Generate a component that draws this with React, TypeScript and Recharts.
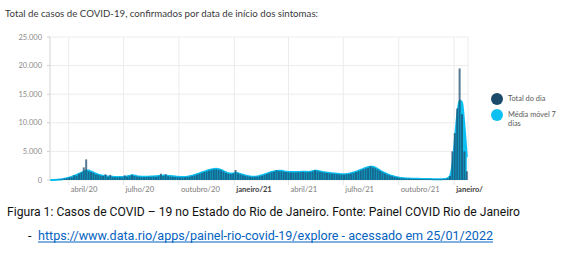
import React from 'react'
import { ComposedChart, Area, Bar, XAxis, YAxis, CartesianGrid } from 'recharts'

// one sample every 4 days, starting 01/03/2020
const stepDays = 4

const movingAvg = [
  0, 5, 15, 40, 80, 140, 210, 300, 420, 550, 720, 880, 1050, 1250, 1450, 1620, 1650, 1520, 1320, 1120,
  940, 820, 740, 680, 630, 590, 560, 540, 520, 520, 530, 560, 620, 720, 820, 790, 680, 610, 570, 550,
  560, 590, 610, 630, 650, 680, 740, 790, 760, 720, 680, 640, 600, 560, 530, 510, 530, 580, 650, 750,
  870, 1000, 1150, 1300, 1450, 1600, 1740, 1850, 1920, 1950, 1900, 1760, 1560, 1350, 1180, 1120, 1160, 1260, 1200, 1060,
  920, 800, 700, 630, 590, 590, 630, 710, 820, 960, 1110, 1260, 1400, 1510, 1580, 1620, 1600, 1530, 1460, 1420,
  1400, 1390, 1380, 1400, 1420, 1450, 1430, 1410, 1460, 1550, 1610, 1600, 1510, 1420, 1350, 1290, 1240, 1190, 1140, 1090,
  1040, 1010, 1000, 1040, 1100, 1190, 1300, 1440, 1600, 1780, 1950, 2100, 2240, 2330, 2300, 2150, 1920, 1660, 1410, 1200,
  1010, 850, 710, 590, 490, 410, 350, 300, 270, 250, 230, 220, 210, 200, 190, 180, 170, 160, 155, 150,
  145, 140, 140, 150, 170, 260, 650, 2600, 6800, 11200, 13900, 13600, 9500, 4000,
]

const dailyTotal = [
  0, 3, 20, 35, 90, 120, 260, 280, 480, 500, 820, 760, 1100, 1300, 2200, 3600, 1500, 1400, 1250, 1000,
  900, 760, 700, 1000, 560, 900, 500, 480, 460, 500, 470, 800, 560, 650, 900, 700, 620, 560, 520, 480,
  520, 560, 540, 600, 560, 650, 1100, 700, 1000, 650, 620, 580, 540, 500, 480, 460, 480, 540, 600, 700,
  800, 940, 1080, 1250, 1380, 1500, 1650, 1780, 1850, 1880, 1820, 1700, 1480, 1250, 1100, 1050, 1100, 1750, 1150, 980,
  850, 740, 650, 580, 540, 560, 580, 660, 760, 900, 1050, 1200, 1350, 1480, 1700, 1550, 1540, 1450, 1400, 1350,
  1330, 1320, 1300, 1350, 1380, 1420, 1360, 1350, 1420, 1500, 1750, 1540, 1450, 1360, 1300, 1230, 1180, 1120, 1080, 1030,
  980, 950, 940, 990, 1050, 1130, 1250, 1380, 1540, 1700, 1880, 2020, 2150, 2400, 2200, 2060, 1840, 1580, 1340, 1130,
  950, 800, 660, 550, 450, 380, 320, 280, 250, 230, 210, 200, 190, 180, 175, 165, 155, 150, 140, 135,
  130, 130, 130, 140, 160, 300, 700, 5000, 8200, 12500, 19500, 11500, 5000, 1500,
]

// days since 01/03/2020
const monthTicks = [31, 122, 214, 306, 396, 487, 579, 671]
const monthLabels = ['abril/20', 'julho/20', 'outubro/20', 'janeiro/21', 'abril/21', 'julho/21', 'outubro/21', 'janeiro/22']
const yTicks = [0, 5000, 10000, 15000, 20000, 25000]

const data = movingAvg.map((m, i) => ({ day: i * stepDays, media: m, total: dailyTotal[i] }))

const NAVY = '#1b4a6b'
const CYAN = '#0cc0f2'
const chartFont = 'Lato, "Open Sans", sans-serif'

const fmtThousands = (v: number) => (v === 0 ? '0' : v.toLocaleString('pt-BR'))

const MonthTick = (props: any) => {
  const { x, y, payload } = props
  const idx = monthTicks.indexOf(payload.value)
  const label = monthLabels[idx] ?? ''
  const bold = label.startsWith('janeiro')
  return (
    <g>
      <defs>
        <clipPath id={`tickclip-${idx}`}>
          <rect x={0} y={0} width={483} height={220} />
        </clipPath>
      </defs>
      <text
        x={x + 2}
        y={y}
        dy="0.71em"
        textAnchor="start"
        fontSize={7.6}
        fontFamily={chartFont}
        fontWeight={bold ? 700 : 400}
        fill={bold ? '#3d3d3d' : '#7d7d7d'}
        clipPath={`url(#tickclip-${idx})`}
      >
        {label}
      </text>
    </g>
  )
}

const LegendDot = ({ color, label }: { color: string; label: string }) => (
  <div style={{ display: 'flex', alignItems: 'flex-start', marginBottom: 5 }}>
    <span style={{ width: 12, height: 12, borderRadius: '50%', background: color, flex: '0 0 auto', marginTop: -1 }} />
    <span style={{ marginLeft: 5, fontSize: 7.4, lineHeight: '9px', color: '#5a5a5a', width: 54 }}>{label}</span>
  </div>
)

export default function App() {
  return (
    <div style={{ position: 'absolute', left: 0, top: 0, width: 565, height: 256, background: '#fff', overflow: 'hidden' }}>
      <ComposedChart
        width={565}
        height={200}
        data={data}
        margin={{ top: 37, right: 97, left: 0, bottom: 0 }}
        style={{ position: 'absolute', left: 0, top: 0 }}
      >
        <CartesianGrid stroke="#ececec" />
        <XAxis
          dataKey="day"
          type="number"
          domain={[0, 694]}
          ticks={monthTicks}
          allowDataOverflow
          height={20}
          axisLine={false}
          tickSize={5}
          tickMargin={2}
          tickLine={{ stroke: '#e6e6e6' }}
          tick={<MonthTick />}
          interval={0}
        />
        <YAxis
          width={50}
          domain={[0, 25000]}
          ticks={yTicks}
          tickFormatter={fmtThousands}
          axisLine={{ stroke: '#dcdcdc' }}
          tickLine={{ stroke: '#cfcfcf' }}
          tickSize={3}
          tickMargin={5}
          tick={{ fontSize: 7.5, fill: '#8a8a8a', fontFamily: chartFont }}
          interval={0}
        />
        <Area
          type="monotone"
          dataKey="media"
          stroke={CYAN}
          strokeWidth={2}
          fill={CYAN}
          fillOpacity={1}
          dot={false}
          activeDot={false}
          isAnimationActive={false}
        />
        <Bar dataKey="total" fill={NAVY} fillOpacity={0.74} barCategoryGap="5%" isAnimationActive={false} />
      </ComposedChart>

      <div style={{ position: 'absolute', left: 491, top: 94, fontFamily: chartFont }}>
        <LegendDot color={NAVY} label="Total do dia" />
        <LegendDot color={CYAN} label="Média móvel 7 dias" />
      </div>

      <svg width={565} height={256} style={{ position: 'absolute', left: 0, top: 0, pointerEvents: 'none' }}>
        <text x={5} y={16.5} fontSize={8.6} fontFamily={chartFont} fill="#3a3a3a" textLength={313} lengthAdjust="spacingAndGlyphs">
          Total de casos de COVID-19, confirmados por data de início dos sintomas:
        </text>
        <g fontFamily='"Liberation Sans Narrow", Roboto, sans-serif' fontSize={12.5}>
          <text x={7} y={215.5} fill="#111" textLength={513} lengthAdjust="spacingAndGlyphs">
            Figura 1: Casos de COVID – 19 no Estado do Rio de Janeiro. Fonte: Painel COVID Rio de Janeiro
          </text>
          <text x={28} y={240} fill="#111">-</text>
          <text x={38} y={240} fill="#0563c1" textLength={455} lengthAdjust="spacingAndGlyphs">
            https://www.data.rio/apps/painel-rio-covid-19/explore - acessado em 25/01/2022
          </text>
          <line x1={38} x2={493} y1={242} y2={242} stroke="#0563c1" strokeWidth={1} />
        </g>
      </svg>
    </div>
  )
}
